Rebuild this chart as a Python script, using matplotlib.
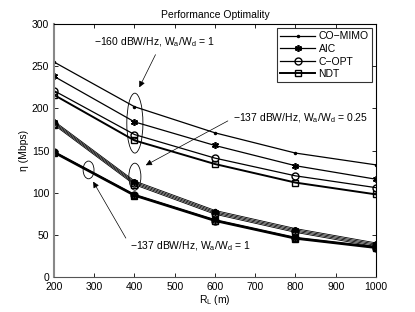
import matplotlib
matplotlib.use("Agg")
import matplotlib.pyplot as plt
from matplotlib.patches import Ellipse

plt.rcParams['font.family'] = ['Liberation Sans', 'DejaVu Sans']

R = [200, 400, 600, 800, 1000]
series = ["CO\u2212MIMO", "AIC", "C\u2212OPT", "NDT"]

# -160 dBW/Hz, Wa/Wd = 1
g1 = {
    "CO\u2212MIMO": [255, 202, 171, 147, 133],
    "AIC": [238, 184, 156, 132, 116],
    "C\u2212OPT": [221, 169, 141, 120, 106],
    "NDT": [216, 162, 134, 112, 98],
}
# -137 dBW/Hz, Wa/Wd = 0.25
g2 = {
    "CO\u2212MIMO": [185, 114, 79, 57.5, 40.5],
    "AIC": [183.5, 112.5, 77.5, 56, 39],
    "C\u2212OPT": [182, 111, 76, 54.5, 37.5],
    "NDT": [180.5, 109.5, 74.5, 53, 36],
}
# -137 dBW/Hz, Wa/Wd = 1
g3 = {
    "CO\u2212MIMO": [149, 98, 68, 47, 36],
    "AIC": [148.5, 97.5, 67.5, 46.5, 35.5],
    "C\u2212OPT": [148, 97, 67, 46, 35],
    "NDT": [147.5, 96.5, 66.5, 45.5, 34.5],
}

styles = {
    "CO\u2212MIMO": dict(marker='.', ms=3, lw=0.9),
    "AIC": dict(marker=(6, 2, 0), ms=5, lw=0.9, mew=1.2),
    "C\u2212OPT": dict(marker='o', ms=5, lw=0.9, mfc='none'),
    "NDT": dict(marker='s', ms=4.5, lw=1.4, mfc='none'),
}

fig = plt.figure(figsize=(4.15, 3.12), dpi=100)
ax = fig.add_axes([0.130, 0.112, 0.776, 0.811])

for g in (g1, g2, g3):
    for s in series:
        st = dict(styles[s])
        if g is g2:
            st['lw'] = 0.6
        ax.plot(R, g[s], color='black', mec='black', label=s if g is g1 else None, **st)

ax.set_xlim(200, 1000)
ax.set_ylim(0, 300)
ax.set_xticks(range(200, 1001, 100))
ax.set_yticks(range(0, 301, 50))
ax.tick_params(direction='in', top=True, right=True, labelsize=7.5, length=3, width=0.6)
for sp in ax.spines.values():
    sp.set_linewidth(0.8)
ax.spines['left'].set_color('#888888')
ax.spines['left'].set_linewidth(1.5)
ax.spines['bottom'].set_color('#555555')

ax.set_title("Performance Optimality", fontsize=7.5, pad=4)
ax.set_xlabel("R$_\\mathregular{L}$ (m)", fontsize=7.5, labelpad=1)
ax.set_ylabel("\u03b7 (Mbps)", fontsize=7.5, labelpad=2)

leg = ax.legend(loc='upper right', fontsize=7.5, frameon=True, fancybox=False,
                edgecolor='black', handlelength=3.4, borderpad=0.3, labelspacing=0.25,
                handletextpad=0.3, borderaxespad=0.4)
leg.get_frame().set_linewidth(0.8)

ell_kw = dict(fill=False, ec='black', lw=0.6)
ax.add_patch(Ellipse((401, 182.5), 40, 71, **ell_kw))
ax.add_patch(Ellipse((401, 119), 30, 32, **ell_kw))
ax.add_patch(Ellipse((286, 127), 27, 21, **ell_kw))

arr = dict(arrowstyle='-|>', color='black', lw=0.5, mutation_scale=9)
ax.annotate("\u2212160 dBW/Hz, W$_\\mathregular{a}$/W$_\\mathregular{d}$ = 1",
            xy=(409, 222), xytext=(300, 278), fontsize=7.5, va='center', ha='left',
            arrowprops=dict(arr, relpos=(0.53, 0.0)))
ax.annotate("\u2212137 dBW/Hz, W$_\\mathregular{a}$/W$_\\mathregular{d}$ = 0.25",
            xy=(422, 131), xytext=(645, 188.5), fontsize=7.5, va='center', ha='left',
            arrowprops=dict(arr, relpos=(0.0, 0.5)))
ax.annotate("\u2212137 dBW/Hz, W$_\\mathregular{a}$/W$_\\mathregular{d}$ = 1",
            xy=(294, 116), xytext=(389, 36), fontsize=7.5, va='center', ha='left',
            arrowprops=dict(arr, relpos=(0.0, 0.6)))

fig.savefig("out.png", dpi=100)
